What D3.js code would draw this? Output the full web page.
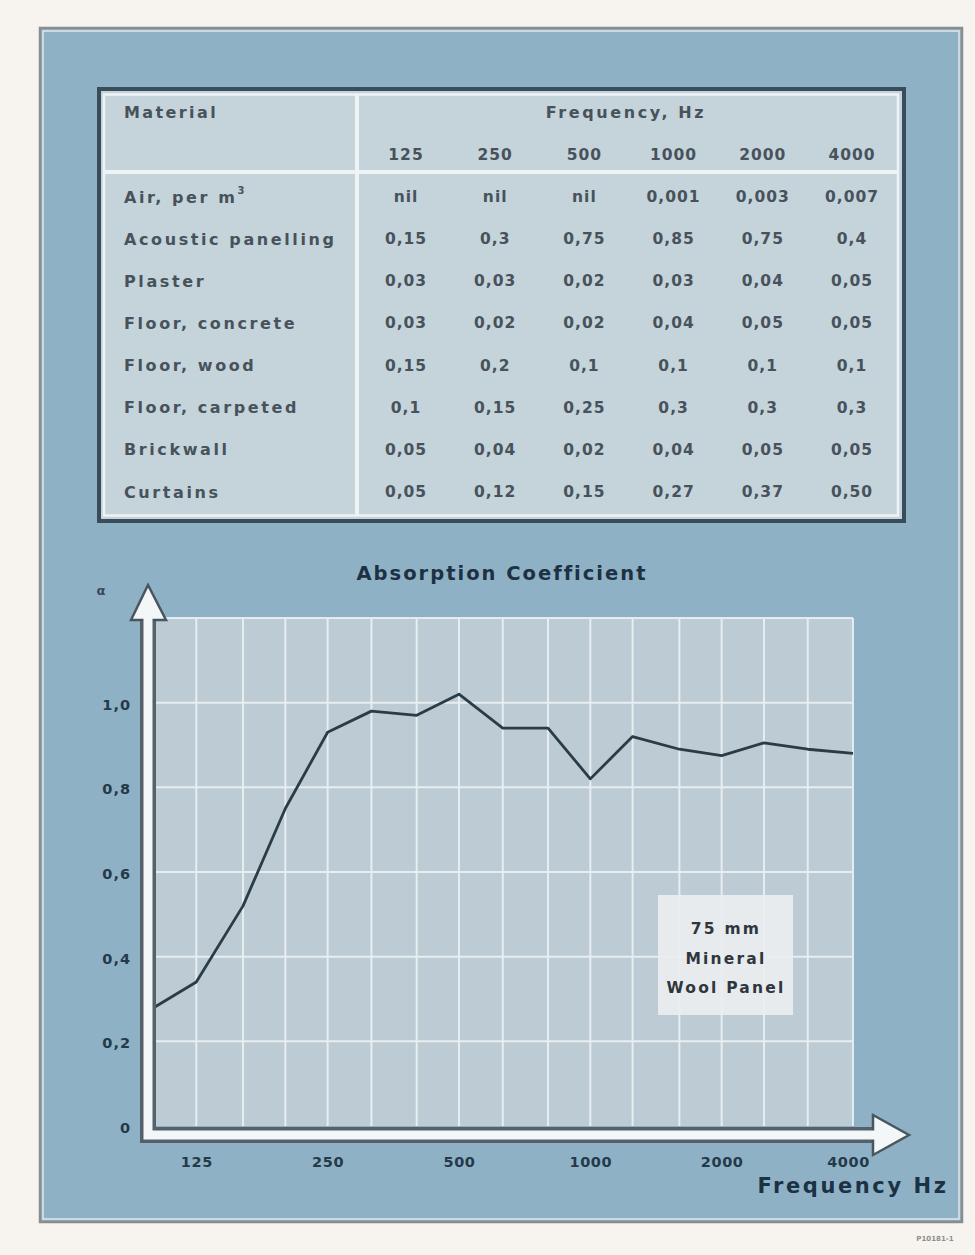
<!DOCTYPE html>
<html>
<head>
<meta charset="utf-8">
<script src="https://cdn.jsdelivr.net/npm/d3@7"></script>
<style>
  html,body{margin:0;padding:0;background:#f7f3ee;}
  svg{display:block;}
  text{font-family:"DejaVu Sans",Verdana,sans-serif;font-weight:bold;}
</style>
</head>
<body>
<svg id="chart" width="975" height="1255"></svg>
<script>
// ---------- DATA ----------
const materials = ["Air, per m", "Acoustic panelling", "Plaster", "Floor, concrete",
                   "Floor, wood", "Floor, carpeted", "Brickwall", "Curtains"];
const tableFreqs = ["125", "250", "500", "1000", "2000", "4000"];
const airValues       = ["nil", "nil", "nil", "0,001", "0,003", "0,007"];
const acousticValues  = ["0,15", "0,3", "0,75", "0,85", "0,75", "0,4"];
const plasterValues   = ["0,03", "0,03", "0,02", "0,03", "0,04", "0,05"];
const concreteValues  = ["0,03", "0,02", "0,02", "0,04", "0,05", "0,05"];
const woodValues      = ["0,15", "0,2", "0,1", "0,1", "0,1", "0,1"];
const carpetValues    = ["0,1", "0,15", "0,25", "0,3", "0,3", "0,3"];
const brickValues     = ["0,05", "0,04", "0,02", "0,04", "0,05", "0,05"];
const curtainValues   = ["0,05", "0,12", "0,15", "0,27", "0,37", "0,50"];
const tableRows = [airValues, acousticValues, plasterValues, concreteValues,
                   woodValues, carpetValues, brickValues, curtainValues];

// 1/3-octave band centre frequencies and absorption coefficient (75 mm mineral wool panel)
const bandFreqs = [100, 125, 160, 200, 250, 315, 400, 500, 630, 800, 1000, 1250, 1600, 2000, 2500, 3150, 4000];
const alphaValues = [0.28, 0.34, 0.52, 0.75, 0.93, 0.98, 0.97, 1.02, 0.94, 0.94, 0.82, 0.92, 0.89, 0.875, 0.905, 0.89, 0.88];

const xTickValues = [125, 250, 500, 1000, 2000, 4000];
const yTickValues = [0, 0.2, 0.4, 0.6, 0.8, 1.0];
const yTickLabels = ["0", "0,2", "0,4", "0,6", "0,8", "1,0"];
const yGridValues = [0.2, 0.4, 0.6, 0.8, 1.0, 1.2];

// ---------- DRAW ----------
const svg = d3.select("#chart");

// outer panel
svg.append("rect").attr("x", 40).attr("y", 28).attr("width", 922).attr("height", 1194)
  .attr("fill", "#8fb1c5").attr("stroke", "#8a8d8e").attr("stroke-width", 2.5);
svg.append("rect").attr("x", 43).attr("y", 31).attr("width", 916).attr("height", 1188)
  .attr("fill", "none").attr("stroke", "#dfe8ec").attr("stroke-width", 1.5);

// ---------- TABLE ----------
const tbl = svg.append("g");
tbl.append("rect").attr("x", 99).attr("y", 89).attr("width", 805).attr("height", 432)
  .attr("fill", "#c5d3db").attr("stroke", "#394c5a").attr("stroke-width", 4);
tbl.append("rect").attr("x", 104).attr("y", 94.5).attr("width", 794).attr("height", 421)
  .attr("fill", "none").attr("stroke", "#eef3f5").attr("stroke-width", 2.5);
tbl.append("line").attr("x1", 357).attr("x2", 357).attr("y1", 94).attr("y2", 516)
  .attr("stroke", "#eef3f5").attr("stroke-width", 4);
tbl.append("line").attr("x1", 104).attr("x2", 898).attr("y1", 172).attr("y2", 172)
  .attr("stroke", "#eef3f5").attr("stroke-width", 4);

const colX = d3.scalePoint().domain(tableFreqs).range([406, 852]);
const rowY = d3.scalePoint().domain(materials).range([197, 492]);
const tcol = "#47525b";

tbl.append("text").attr("x", 124).attr("y", 112).attr("dominant-baseline", "central")
  .attr("font-size", 16).attr("letter-spacing", 2.4).attr("fill", tcol).text("Material");
tbl.append("text").attr("x", 626).attr("y", 112).attr("dominant-baseline", "central")
  .attr("text-anchor", "middle").attr("font-size", 16).attr("letter-spacing", 2.6)
  .attr("fill", tcol).text("Frequency, Hz");

tbl.selectAll("text.fh").data(tableFreqs).join("text").attr("class", "fh")
  .attr("x", d => colX(d)).attr("y", 155).attr("dominant-baseline", "central")
  .attr("text-anchor", "middle").attr("font-size", 15.5).attr("letter-spacing", 1)
  .attr("fill", tcol).text(d => d);

const lbl = tbl.selectAll("text.ml").data(materials).join("text").attr("class", "ml")
  .attr("x", 124).attr("y", d => rowY(d)).attr("dominant-baseline", "central")
  .attr("font-size", 16).attr("letter-spacing", 2.6).attr("fill", tcol).text(d => d);
// superscript for m²
lbl.filter((d, i) => i === 0).append("tspan").attr("dy", -7).attr("font-size", 10).text("3");

tableRows.forEach((vals, r) => {
  tbl.selectAll("text.v" + r).data(vals).join("text").attr("class", "v" + r)
    .attr("x", (d, i) => colX(tableFreqs[i])).attr("y", rowY(materials[r]))
    .attr("dominant-baseline", "central").attr("text-anchor", "middle")
    .attr("font-size", 15.5).attr("letter-spacing", 1).attr("fill", tcol).text(d => d);
});

// ---------- CHART ----------
const x = d3.scaleLog().base(2).domain([100, 4000]).range([154, 853]);
const y = d3.scaleLinear().domain([0, 1.2]).range([1126, 618]);

svg.append("text").attr("x", 502).attr("y", 573).attr("dominant-baseline", "central")
  .attr("text-anchor", "middle").attr("font-size", 19.5).attr("letter-spacing", 2)
  .attr("fill", "#1d3142").text("Absorption Coefficient");

// plot background
svg.append("rect").attr("x", x(100)).attr("y", y(1.2)).attr("width", x(4000) - x(100))
  .attr("height", y(0) - y(1.2)).attr("fill", "#bccbd4");

// grid
const grid = svg.append("g").attr("stroke", "#eef5f8").attr("stroke-width", 2).attr("opacity", 0.85);
grid.selectAll("line.gv").data(bandFreqs).join("line").attr("class", "gv")
  .attr("x1", d => x(d)).attr("x2", d => x(d)).attr("y1", y(1.2)).attr("y2", y(0));
grid.selectAll("line.gh").data(yGridValues).join("line").attr("class", "gh")
  .attr("x1", x(100)).attr("x2", x(4000)).attr("y1", d => y(d)).attr("y2", d => y(d));

// data line
const pts = bandFreqs.map((f, i) => ({f, a: alphaValues[i]}));
svg.append("path").datum(pts)
  .attr("d", d3.line().x(d => x(d.f)).y(d => y(d.a)))
  .attr("fill", "none").attr("stroke", "#2c3c47").attr("stroke-width", 2.8)
  .attr("stroke-linejoin", "round");

// label box
svg.append("rect").attr("x", 658).attr("y", 895).attr("width", 135).attr("height", 120)
  .attr("fill", "#eaeef0").attr("opacity", 0.92);
const boxLines = ["75 mm", "Mineral", "Wool Panel"];
svg.selectAll("text.bx").data(boxLines).join("text").attr("class", "bx")
  .attr("x", 726).attr("y", (d, i) => 929 + i * 29.5).attr("dominant-baseline", "central")
  .attr("text-anchor", "middle").attr("font-size", 15.5).attr("letter-spacing", 2.2)
  .attr("fill", "#30363d").text(d => d);

// axes arrows (L shape)
const ax0 = 148, ay0 = 1135;
const axPath = `M${ax0},${y(1.2) + 2} V${ay0} H873`;
svg.append("path").attr("d", axPath).attr("fill", "none").attr("stroke", "#55616a")
  .attr("stroke-width", 16).attr("stroke-linejoin", "miter");
svg.append("path").attr("d", `M${ax0 - 17},${y(1.2) + 2} L${ax0},${585} L${ax0 + 18},${y(1.2) + 2} Z`)
  .attr("fill", "#f4f7f8").attr("stroke", "#4a565f").attr("stroke-width", 2.5).attr("stroke-linejoin", "miter");
svg.append("path").attr("d", `M873,${ay0 - 20} L909,${ay0} L873,${ay0 + 20} Z`)
  .attr("fill", "#f4f7f8").attr("stroke", "#4a565f").attr("stroke-width", 2.5).attr("stroke-linejoin", "miter");
svg.append("path").attr("d", `M${ax0},${y(1.2)} V${ay0} H875`).attr("fill", "none")
  .attr("stroke", "#f4f7f8").attr("stroke-width", 9).attr("stroke-linejoin", "miter");

// alpha symbol
svg.append("text").attr("x", 101).attr("y", 590).attr("dominant-baseline", "central")
  .attr("text-anchor", "middle").attr("font-size", 13).attr("font-weight", "normal")
  .attr("fill", "#34495a").text("α");

// y axis labels
const yAxis = d3.axisLeft(y).tickValues(yTickValues).tickSize(0).tickPadding(0)
  .tickFormat((d, i) => yTickLabels[i]);
const gy = svg.append("g").attr("transform", "translate(131,2)").call(yAxis);
gy.select(".domain").remove();
gy.selectAll("text").attr("font-size", 14.5).attr("letter-spacing", 1)
  .attr("fill", "#243a4b").style("font-family", "DejaVu Sans").style("font-weight", "bold");

// x axis labels
const xAxis = d3.axisBottom(x).tickValues(xTickValues).tickSize(0).tickPadding(0)
  .tickFormat(d => String(d));
const gx = svg.append("g").attr("transform", "translate(0,1157)").call(xAxis);
gx.select(".domain").remove();
gx.selectAll("text").attr("font-size", 14.5).attr("letter-spacing", 0.6)
  .attr("fill", "#243a4b").style("font-family", "DejaVu Sans").style("font-weight", "bold");
gx.selectAll(".tick").filter(d => d === 4000).select("text").attr("dx", -5);

// x axis title
svg.append("text").attr("x", 853).attr("y", 1186).attr("dominant-baseline", "central")
  .attr("text-anchor", "middle").attr("font-size", 21).attr("letter-spacing", 2.6)
  .attr("fill", "#1b3245").text("Frequency Hz");

// reference code
svg.append("text").attr("x", 935).attr("y", 1239).attr("text-anchor", "middle")
  .attr("dominant-baseline", "central").attr("font-size", 7).attr("font-weight", "normal")
  .attr("fill", "#8e9090").text("P10181-1");
</script>
</body>
</html>
